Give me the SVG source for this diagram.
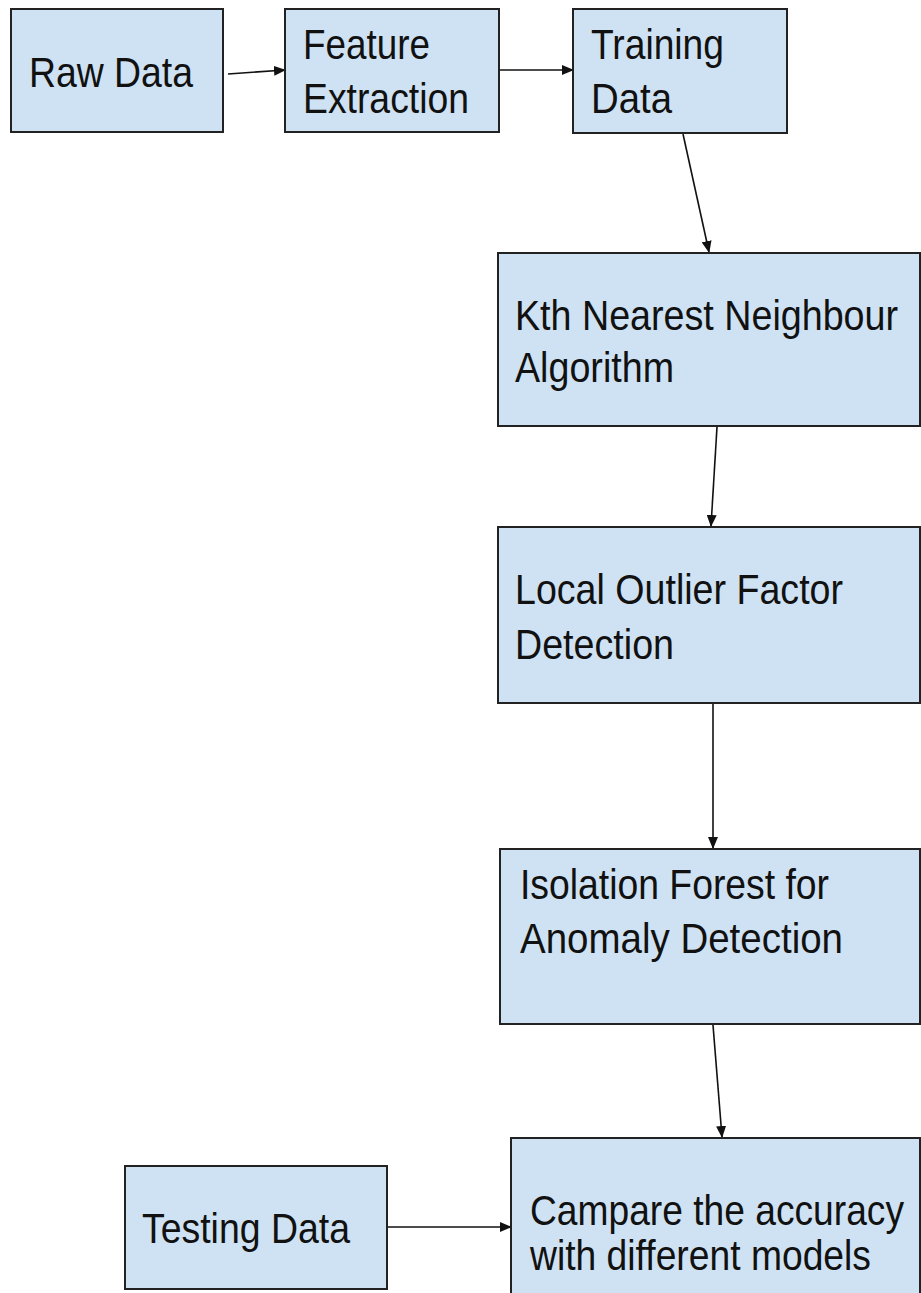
<svg xmlns="http://www.w3.org/2000/svg" width="921" height="1293" viewBox="0 0 921 1293">
<style>
.box{fill:#cfe2f3;stroke:#222;stroke-width:2}
.lbl{font-family:"Liberation Sans",Arial,sans-serif;font-size:43px;fill:#111}
.edge{fill:none;stroke:#111;stroke-width:1.6}
</style>
<defs>
<marker id="ah" markerUnits="userSpaceOnUse" markerWidth="12" markerHeight="10" refX="11" refY="5" orient="auto">
<path d="M0,0 L12,5 L0,10 Z" fill="#111"/>
</marker>
</defs>
<rect width="921" height="1293" fill="#fff"/>
<g id="connectors">
<line class="edge" x1="228" y1="74" x2="285" y2="70" marker-end="url(#ah)"/>
<line class="edge" x1="499" y1="70" x2="573" y2="70" marker-end="url(#ah)"/>
<line class="edge" x1="683" y1="134" x2="709" y2="252" marker-end="url(#ah)"/>
<line class="edge" x1="717" y1="427" x2="711" y2="526" marker-end="url(#ah)"/>
<line class="edge" x1="713" y1="704" x2="713" y2="848" marker-end="url(#ah)"/>
<line class="edge" x1="713" y1="1025" x2="722" y2="1137" marker-end="url(#ah)"/>
<line class="edge" x1="388" y1="1227" x2="511" y2="1227" marker-end="url(#ah)"/>
</g>
<g id="raw-data">
<rect class="box" x="11" y="9" width="212" height="123"/>
<text class="lbl" x="29" y="87" textLength="164" lengthAdjust="spacingAndGlyphs">Raw Data</text>
</g>
<g id="feature-extraction">
<rect class="box" x="285" y="9" width="214" height="123"/>
<text class="lbl" x="303" y="59" textLength="127" lengthAdjust="spacingAndGlyphs">Feature</text>
<text class="lbl" x="303" y="113" textLength="166" lengthAdjust="spacingAndGlyphs">Extraction</text>
</g>
<g id="training-data">
<rect class="box" x="573" y="9" width="214" height="124"/>
<text class="lbl" x="591" y="59" textLength="133" lengthAdjust="spacingAndGlyphs">Training</text>
<text class="lbl" x="591" y="113" textLength="81" lengthAdjust="spacingAndGlyphs">Data</text>
</g>
<g id="knn">
<rect class="box" x="498" y="253" width="422" height="173"/>
<text class="lbl" x="515" y="330" textLength="383" lengthAdjust="spacingAndGlyphs">Kth Nearest Neighbour</text>
<text class="lbl" x="515" y="382" textLength="159" lengthAdjust="spacingAndGlyphs">Algorithm</text>
</g>
<g id="lof">
<rect class="box" x="498" y="527" width="422" height="176"/>
<text class="lbl" x="515" y="604" textLength="328" lengthAdjust="spacingAndGlyphs">Local Outlier Factor</text>
<text class="lbl" x="515" y="659" textLength="159" lengthAdjust="spacingAndGlyphs">Detection</text>
</g>
<g id="isolation-forest">
<rect class="box" x="500" y="849" width="420" height="175"/>
<text class="lbl" x="520" y="899" textLength="309" lengthAdjust="spacingAndGlyphs">Isolation Forest for</text>
<text class="lbl" x="520" y="953" textLength="323" lengthAdjust="spacingAndGlyphs">Anomaly Detection</text>
</g>
<g id="testing-data">
<rect class="box" x="125" y="1166" width="262" height="123"/>
<text class="lbl" x="142" y="1243" textLength="208" lengthAdjust="spacingAndGlyphs">Testing Data</text>
</g>
<g id="compare">
<rect class="box" x="511" y="1138" width="409" height="170"/>
<text class="lbl" x="530" y="1225" textLength="374" lengthAdjust="spacingAndGlyphs">Campare the accuracy</text>
<text class="lbl" x="530" y="1270" textLength="341" lengthAdjust="spacingAndGlyphs">with different models</text>
</g>
</svg>
